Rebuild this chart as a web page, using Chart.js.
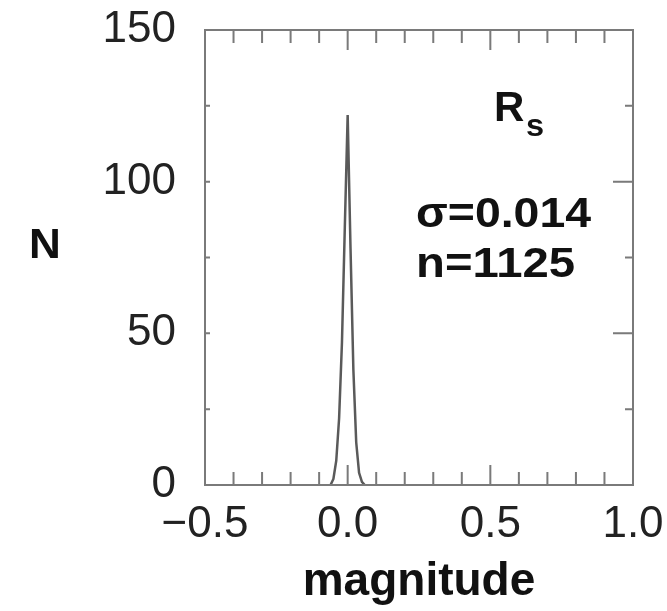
<!DOCTYPE html>
<html>
<head>
<meta charset="utf-8">
<script src="https://cdn.jsdelivr.net/npm/chart.js@4"></script>
<style>
  html, body { margin: 0; padding: 0; background: #fff; }
  #wrap { width: 667px; height: 611px; }
</style>
</head>
<body>
<div id="wrap"><canvas id="histChart" width="667" height="611"></canvas></div>
<script>
// histogram bin centres (magnitude) and counts N
const magBins = [-0.06, -0.05, -0.04, -0.03, -0.02, -0.01, 0.00, 0.01, 0.02, 0.03, 0.04, 0.05, 0.06];
const counts  = [0, 2, 8, 22, 47, 85, 122, 78, 38, 14, 4, 1, 0];

const xTicks = [-0.5, 0.0, 0.5, 1.0];
const xTickLabels = ['\u22120.5', '0.0', '0.5', '1.0'];
const xMinorTicks = [-0.4, -0.3, -0.2, -0.1, 0.1, 0.2, 0.3, 0.4, 0.6, 0.7, 0.8, 0.9];
const yTicks = [0, 50, 100, 150];
const yTickLabels = ['0', '50', '100', '150'];
const yMinorTicks = [25, 75, 125];

const FONT = '"Liberation Sans", Arial, Helvetica, sans-serif';

// draw text a little wider, like the scanned original
function wideText(ctx, txt, x, y, sx) {
    ctx.save();
    ctx.translate(x, y);
    ctx.scale(sx, 1);
    ctx.fillText(txt, 0, 0);
    ctx.restore();
}

// frame, inward tick marks and text annotations
const framePlugin = {
    id: 'frame',
    afterDraw(chart) {
        const ctx = chart.ctx;
        const { left, right, top, bottom } = chart.chartArea;
        const xs = chart.scales.x, ys = chart.scales.y;
        ctx.save();
        ctx.strokeStyle = '#7a7a7a';
        ctx.lineWidth = 2;
        ctx.strokeRect(left, top, right - left, bottom - top);

        const tickX = (v, len) => {
            const px = xs.getPixelForValue(v);
            ctx.beginPath();
            ctx.moveTo(px, bottom); ctx.lineTo(px, bottom - len);
            ctx.moveTo(px, top); ctx.lineTo(px, top + len);
            ctx.stroke();
        };
        const tickY = (v, lenL, lenR) => {
            const py = ys.getPixelForValue(v);
            ctx.beginPath();
            ctx.moveTo(left, py); ctx.lineTo(left + lenL, py);
            ctx.moveTo(right, py); ctx.lineTo(right - lenR, py);
            ctx.stroke();
        };
        xTicks.forEach(v => tickX(v, 20));
        xMinorTicks.forEach(v => tickX(v, 13));
        yTicks.forEach(v => tickY(v, 5, 20));
        yMinorTicks.forEach(v => tickY(v, 5, 8));

        ctx.fillStyle = '#111';
        ctx.textBaseline = 'alphabetic';
        ctx.textAlign = 'left';

        // axis label N (upright)
        ctx.font = 'bold 42px ' + FONT;
        wideText(ctx, 'N', 29, 258, 1.05);

        // R_s
        ctx.font = 'bold 42px ' + FONT;
        wideText(ctx, 'R', 494, 121, 1.0);
        ctx.font = 'bold 31px ' + FONT;
        wideText(ctx, 's', 526, 136, 1.05);

        ctx.font = 'bold 43px ' + FONT;
        wideText(ctx, '\u03c3=0.014', 416, 227, 1.08);
        wideText(ctx, 'n=1125', 416, 277, 1.1);
        ctx.restore();
    }
};

const ctx = document.getElementById('histChart').getContext('2d');
new Chart(ctx, {
    type: 'line',
    data: {
        datasets: [{
            data: magBins.map((m, i) => ({ x: m, y: counts[i] })),
            borderColor: '#5a5a5a',
            borderWidth: 2.5,
            pointRadius: 0,
            tension: 0,
            fill: false
        }]
    },
    options: {
        responsive: false,
        animation: false,
        layout: { padding: { top: 30, right: 34, left: 0, bottom: 0 } },
        plugins: { legend: { display: false }, tooltip: { enabled: false } },
        scales: {
            x: {
                type: 'linear',
                min: -0.5,
                max: 1.0,
                grid: { display: false, drawTicks: false },
                border: { display: false },
                afterBuildTicks: s => { s.ticks = xTicks.map(v => ({ value: v })); },
                afterFit: s => { s.height = 126; s.paddingLeft = 0; s.paddingRight = 0; },
                ticks: {
                    color: '#222',
                    font: { family: FONT, size: 44 },
                    padding: 13,
                    maxRotation: 0,
                    autoSkip: false,
                    callback: (v) => xTickLabels[xTicks.indexOf(v)]
                },
                title: {
                    display: true,
                    text: 'magnitude',
                    color: '#111',
                    font: { family: FONT, size: 46, weight: 'bold' },
                    padding: { top: 0, bottom: 1 }
                }
            },
            y: {
                min: 0,
                max: 150,
                grid: { display: false, drawTicks: false },
                border: { display: false },
                afterBuildTicks: s => { s.ticks = yTicks.map(v => ({ value: v })); },
                afterFit: s => { s.width = 205; s.paddingTop = 0; s.paddingBottom = 0; },
                ticks: {
                    color: '#222',
                    font: { family: FONT, size: 44 },
                    padding: 29,
                    callback: (v) => yTickLabels[yTicks.indexOf(v)]
                }
            }
        }
    },
    plugins: [framePlugin]
});
</script>
</body>
</html>
